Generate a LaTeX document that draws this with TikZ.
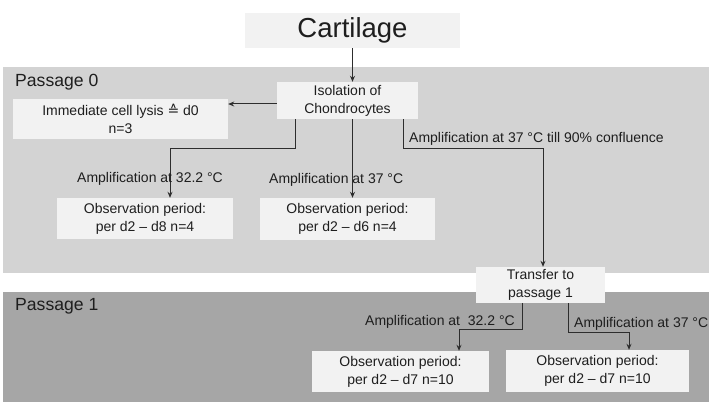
\documentclass[tikz,border=0pt]{standalone}
\usepackage{fontspec}
\setmainfont{Liberation Sans}
\newfontfamily\symfont{DejaVu Sans}
\usetikzlibrary{arrows.meta,calc}
\definecolor{pzero}{RGB}{211,211,211}
\definecolor{pone}{RGB}{166,166,166}
\definecolor{boxfill}{RGB}{242,242,242}
\definecolor{ink}{RGB}{30,30,30}
\definecolor{wire}{RGB}{45,45,45}
\begin{document}
\begin{tikzpicture}[x=1pt,y=-1pt,
  every node/.style={text=ink},
  panel/.style={fill=#1,draw=none},
  stepbox/.style={fill=boxfill,draw=none,inner sep=0,align=center,
    font=\fontsize{14}{18}\selectfont},
  lbl/.style={inner sep=0,anchor=west,font=\fontsize{14}{17}\selectfont},
  ptitle/.style={inner sep=0,anchor=west,font=\fontsize{17.6}{20}\selectfont},
  wireline/.style={draw=wire,line width=1pt},
  arr/.style={wireline,-{Stealth[length=6pt,width=5pt]}}]
\useasboundingbox (0,0) rectangle (712,406);
\fill[white] (0,0) rectangle (712,406);
% panels
\path[panel=pzero] (3,67) rectangle (709,273);
\path[panel=pone] (3,292) rectangle (709,402);
\node[ptitle] (p0) at (15,82) {Passage 0};
\node[ptitle] (p1) at (15,306) {Passage 1};
% boxes
\node[stepbox,minimum width=215,minimum height=35,font=\fontsize{27.5}{30}\selectfont] (cart) at (352.5,30.5) {Cartilage};
\node[stepbox,minimum width=141,minimum height=37] (iso) at (347.5,100.5) {Isolation of\\Chondrocytes};
\node[stepbox,minimum width=215,minimum height=40] (lysis) at (120.5,119) {Immediate cell lysis {\symfont ≙} d0\\n=3};
\node[stepbox,minimum width=176,minimum height=41] (obs1) at (145,218.5) {Observation period:\\per d2 -- d8 n=4};
\node[stepbox,minimum width=175,minimum height=42] (obs2) at (347.5,219) {Observation period:\\per d2 -- d6 n=4};
\node[stepbox,minimum width=129,minimum height=36] (trans) at (540.5,285) {Transfer to\\passage 1};
\node[stepbox,minimum width=177,minimum height=41] (obs3) at (400.5,371.5) {Observation period:\\per d2 -- d7 n=10};
\node[stepbox,minimum width=183,minimum height=42] (obs4) at (597.5,371) {Observation period:\\per d2 -- d7 n=10};
% bend points
\coordinate (aL) at (295,149);
\coordinate (bL) at (170,149);
\coordinate (aR) at (403,149);
\coordinate (bR) at (543,149);
\coordinate (cL) at (522,329);
\coordinate (dL) at (459,329);
\coordinate (cR) at (568,332);
\coordinate (dR) at (629,332);
\coordinate (lyY) at (0,104);
% connectors
\draw[arr] (cart.south) -- (cart.south |- iso.north);
\draw[arr] (iso.west |- lyY) -- (lysis.east |- lyY);
\draw[arr] (aL |- iso.south) -- (aL) -- (bL) -- (bL |- obs1.north);
\draw[arr] (cart.south |- iso.south) -- (cart.south |- obs2.north);
\draw[arr] (aR |- iso.south) -- (aR) -- (bR) -- (bR |- trans.north);
\draw[arr] (cL |- trans.south) -- (cL) -- (dL) -- (dL |- obs3.north);
\draw[arr] (cR |- trans.south) -- (cR) -- (dR) -- (dR |- obs4.north);
% labels
\node[lbl] (l1) at (77,179) {Amplification at 32.2 °C};
\node[lbl] (l2) at (269,180) {Amplification at 37 °C};
\node[lbl] (l3) at (409,139) {Amplification at 37 °C till 90\% confluence};
\node[lbl] (l4) at (365,322) {Amplification at \ 32.2 °C};
\node[lbl] (l5) at (574,324) {Amplification at 37 °C};
\end{tikzpicture}
\end{document}
